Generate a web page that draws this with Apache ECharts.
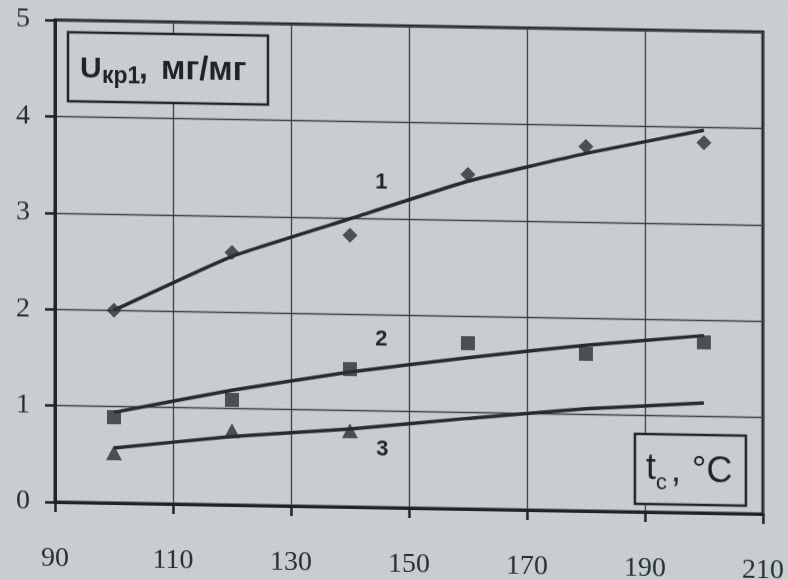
<!DOCTYPE html>
<html><head><meta charset="utf-8">
<script src="https://cdn.jsdelivr.net/npm/echarts@6/dist/echarts.min.js"></script>
<style>
html,body{margin:0;padding:0;background:#c8cecf;overflow:hidden}
#c{width:788px;height:580px;transform:skewY(0.97deg);transform-origin:55px 0}
</style></head><body><div id="c"></div>
<script>
// ---- data ----
const xTickLabels = [90,110,130,150,170,190,210];
const yTickLabels = [0,1,2,3,4,5];
const temps = [100,120,140,160,180,200];
const curve1Points = [2.0,2.62,2.82,3.47,3.78,3.84];
const curve1Trend  = [2.0,2.58,2.99,3.40,3.71,3.97];
const curve2Points = [0.89,1.09,1.43,1.72,1.63,1.77];
const curve2Trend  = [0.94,1.19,1.40,1.57,1.72,1.84];
const curve3Temps  = [100,120,140];
const curve3Points = [0.52,0.77,0.79];
const curve3Trend  = [0.57,0.71,0.81,0.94,1.06,1.14];
const curveNames = ['1','2','3'];

const pairs = (xs, ys) => xs.map((x,i)=>[x, ys[i]]);
const ink = '#262c2c';
const bg = '#c8cecf';

const chart = echarts.init(document.getElementById('c'), null, {renderer:'canvas'});
const labelMark = (name, coord) => ({
  symbol:'circle', symbolSize:2, silent:true,
  itemStyle:{color:'rgba(0,0,0,0)'},
  data:[{coord: coord, value: name}],
  label:{show:true, formatter:name, position:'inside', color:'#1f2525',
         fontFamily:'"Liberation Sans", Arial, sans-serif', fontSize:22, fontWeight:'bold'}
});
chart.setOption({
  backgroundColor: bg,
  animation:false,
  grid:{left:55, right:25, top:20, bottom:78, show:true, borderColor:'#1f2424', borderWidth:3},
  xAxis:{type:'value', min:xTickLabels[0], max:xTickLabels[xTickLabels.length-1], interval:20,
    axisLine:{lineStyle:{color:'#1f2424', width:3}},
    axisTick:{show:true, length:10, lineStyle:{color:'#1f2424', width:2.5}},
    axisLabel:{fontFamily:'"Liberation Serif", "Times New Roman", serif', fontSize:28, color:'#27302e', margin:43},
    splitLine:{show:true, lineStyle:{color:'#3a4343', width:1.3}}},
  yAxis:{type:'value', min:yTickLabels[0], max:yTickLabels[yTickLabels.length-1], interval:1,
    axisLine:{show:true, lineStyle:{color:'#1f2424', width:3}},
    axisTick:{show:true, length:10, lineStyle:{color:'#1f2424', width:2.5}},
    axisLabel:{fontFamily:'"Liberation Serif", "Times New Roman", serif', fontSize:28, color:'#27302e', margin:25},
    splitLine:{show:true, lineStyle:{color:'#3a4343', width:1.3}}},
  series:[
    {type:'line', data:pairs(temps, curve1Trend), symbol:'none', smooth:0.12,
     lineStyle:{color:ink, width:3.5}, z:3, markPoint:labelMark(curveNames[0],[145.3,3.37])},
    {type:'line', data:pairs(temps, curve2Trend), symbol:'none', smooth:0.12,
     lineStyle:{color:ink, width:3.5}, z:3, markPoint:labelMark(curveNames[1],[145.3,1.74])},
    {type:'line', data:pairs(temps, curve3Trend), symbol:'none', smooth:0.12,
     lineStyle:{color:ink, width:3.5}, z:3, markPoint:labelMark(curveNames[2],[145.5,0.60])},
    {type:'scatter', data:pairs(temps, curve1Points), symbol:'diamond', symbolSize:15,
     itemStyle:{color:'#2b3031'}, z:4},
    {type:'scatter', data:pairs(temps, curve2Points), symbol:'rect', symbolSize:14,
     itemStyle:{color:'#2b3031'}, z:4},
    {type:'scatter', data:pairs(curve3Temps, curve3Points), symbol:'triangle', symbolSize:[16,15],
     itemStyle:{color:'#2b3031'}, z:4}
  ],
  graphic:[
    {type:'rect', z:100, shape:{x:68, y:32, width:200, height:69},
     style:{fill:bg, stroke:'#222828', lineWidth:2.5}},
    {type:'text', z:101, x:80, y:69, style:{text:'U', font:'bold 30px "Liberation Sans", Arial, sans-serif',
     fill:'#1f2525', textVerticalAlign:'middle', verticalAlign:'middle'}},
    {type:'text', z:101, x:102, y:76, style:{text:'кр1', font:'bold 23px "Liberation Sans", Arial, sans-serif',
     fill:'#1f2525', textVerticalAlign:'middle', verticalAlign:'middle'}},
    {type:'text', z:101, x:139, y:68, style:{text:',', font:'bold 32px "Liberation Sans", Arial, sans-serif',
     fill:'#1f2525', textVerticalAlign:'middle', verticalAlign:'middle'}},
    {type:'text', z:101, x:161, y:68, style:{text:'мг/мг', font:'bold 33px "Liberation Sans", Arial, sans-serif',
     fill:'#1f2525', textVerticalAlign:'middle', verticalAlign:'middle'}},
    {type:'rect', z:100, shape:{x:635, y:424, width:111, height:70},
     style:{fill:bg, stroke:'#222828', lineWidth:2.5}},
    {type:'text', z:101, x:646, y:459, style:{text:'t', font:'36px "Liberation Sans", Arial, sans-serif',
     fill:'#1f2525', textVerticalAlign:'middle', verticalAlign:'middle'}},
    {type:'text', z:101, x:656, y:473, style:{text:'c', font:'22px "Liberation Sans", Arial, sans-serif',
     fill:'#1f2525', textVerticalAlign:'middle', verticalAlign:'middle'}},
    {type:'text', z:101, x:671, y:461, style:{text:',', font:'36px "Liberation Sans", Arial, sans-serif',
     fill:'#1f2525', textVerticalAlign:'middle', verticalAlign:'middle'}},
    {type:'text', z:101, x:692, y:461, style:{text:'°C', font:'36px "Liberation Sans", Arial, sans-serif',
     fill:'#1f2525', textVerticalAlign:'middle', verticalAlign:'middle'}}
  ]
});
</script></body></html>
